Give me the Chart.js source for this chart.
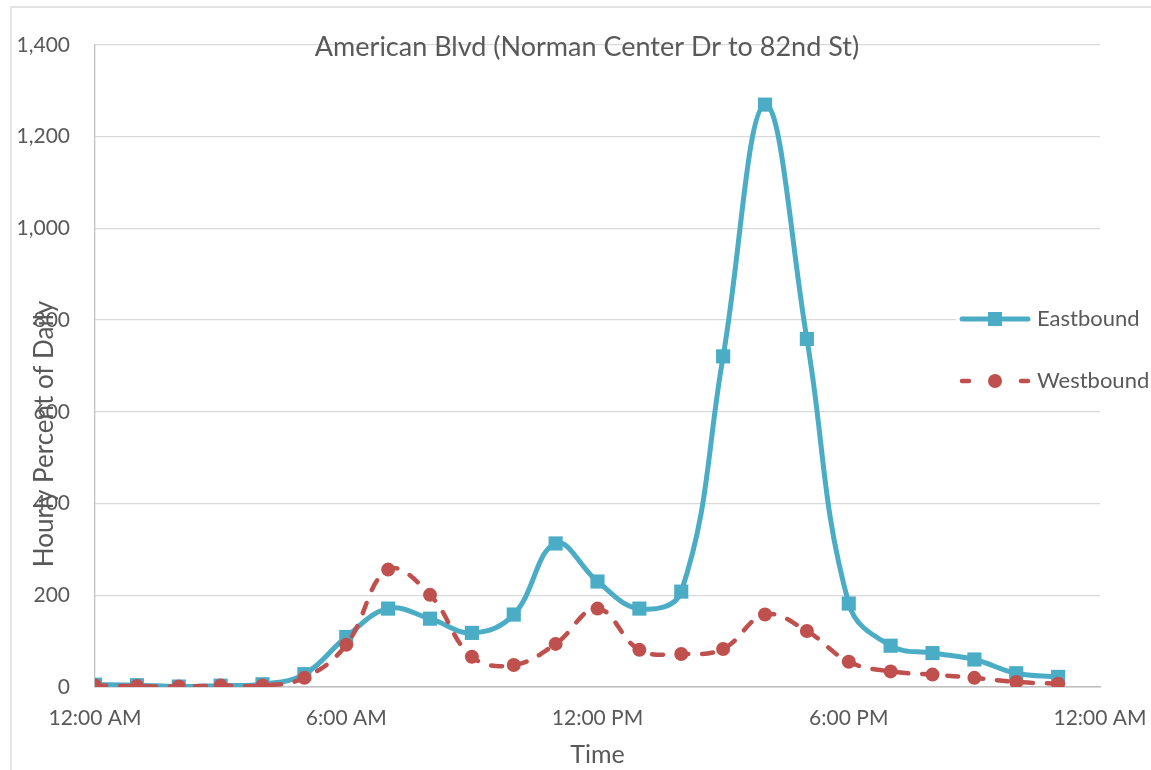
<!DOCTYPE html>
<html>
<head>
<meta charset="utf-8">
<script src="https://cdn.jsdelivr.net/npm/chart.js@4"></script>
<style>
  html, body { margin: 0; padding: 0; background: #fff; }
  #wrap { width: 1151px; height: 770px; position: relative; }
</style>
</head>
<body>
<div id="wrap"><canvas id="chart" width="1151" height="770"></canvas></div>
<script>
// hourly counts, 12 AM .. 11 PM
const hours = [0,1,2,3,4,5,6,7,8,9,10,11,12,13,14,15,16,17,18,19,20,21,22,23];
const eastbound = [5,4,1,3,6,28,109,171,149,118,158,313,230,171,208,721,1270,759,182,90,74,60,30,22];
const westbound = [3,2,1,3,3,20,92,256,201,66,48,94,171,81,72,83,158,122,55,34,27,20,11,7];
const tickLabels = ['12:00 AM','6:00 AM','12:00 PM','6:00 PM','12:00 AM'];
const seriesNames = ['Eastbound','Westbound'];

const EAST = '#4BACC6', WEST = '#C0504D', TXT = '#595959';
const FONT = 'Lato, "Open Sans", sans-serif';
const WEST_DASH = [11, 14];

const pts = vals => hours.map((h, i) => ({ x: h, y: vals[i] }));

// title, axis titles and legend sit over the plot in the original, so draw them by hand
const extras = {
    id: 'extras',
    afterDraw(chart) {
        const ctx = chart.ctx;
        const ca = chart.chartArea;
        ctx.save();
        // outer chart border
        ctx.strokeStyle = '#D9D9D9';
        ctx.lineWidth = 1.3;
        ctx.beginPath();
        ctx.moveTo(11, 770); ctx.lineTo(11, 7); ctx.lineTo(1151, 7);
        ctx.stroke();

        ctx.fillStyle = TXT;
        ctx.font = '27px ' + FONT;
        ctx.textAlign = 'center';
        ctx.textBaseline = 'middle';
        ctx.fillText('American Blvd (Norman Center Dr to 82nd St)', 587, 47);

        ctx.font = '25px ' + FONT;
        ctx.fillText('Time', (ca.left + ca.right) / 2, 755);

        ctx.save();
        ctx.translate(45, 434);
        ctx.rotate(-Math.PI / 2);
        ctx.font = '26px ' + FONT;
        ctx.fillText('Hourly Percent of Daily', 0, 0);
        ctx.restore();

        // legend
        ctx.fillStyle = '#fff';
        ctx.fillRect(956, 304, 195, 92);
        const rows = [
            { name: seriesNames[0], y: 319, color: EAST, w: 5 },
            { name: seriesNames[1], y: 381, color: WEST, w: 4.5 }
        ];
        rows.forEach((r, i) => {
            ctx.strokeStyle = r.color;
            ctx.lineWidth = r.w;
            ctx.lineCap = 'round';
            ctx.beginPath();
            if (i === 0) { ctx.moveTo(962, r.y); ctx.lineTo(1028, r.y); }
            else { ctx.moveTo(962, r.y); ctx.lineTo(969, r.y); ctx.moveTo(1021, r.y); ctx.lineTo(1028, r.y); }
            ctx.stroke();
            ctx.fillStyle = r.color;
            if (i === 0) ctx.fillRect(988, r.y - 7, 14, 14);
            else { ctx.beginPath(); ctx.arc(995, r.y, 7, 0, Math.PI * 2); ctx.fill(); }
            ctx.fillStyle = TXT;
            ctx.font = '22px ' + FONT;
            ctx.textAlign = 'left';
            ctx.fillText(r.name, 1037, r.y);
        });
        ctx.restore();
    }
};

new Chart(document.getElementById('chart'), {
    type: 'line',
    data: {
        datasets: [
            {
                label: seriesNames[0], data: pts(eastbound), order: 2,
                borderColor: EAST, backgroundColor: EAST, borderWidth: 5,
                pointStyle: 'rect', pointRadius: 10, pointBorderWidth: 0,
                tension: 0.4, fill: false
            },
            {
                label: seriesNames[1], data: pts(westbound), order: 1,
                borderColor: WEST, backgroundColor: WEST, borderWidth: 4.5,
                borderDash: WEST_DASH, borderCapStyle: 'round',
                pointStyle: 'circle', pointRadius: 7, pointBorderWidth: 0,
                tension: 0.4, fill: false
            }
        ]
    },
    options: {
        responsive: false,
        animation: false,
        layout: { padding: { top: 45, right: 51, left: 0, bottom: 0 } },
        plugins: { legend: { display: false }, title: { display: false }, tooltip: { enabled: false } },
        scales: {
            x: {
                type: 'linear', min: 0, max: 24,
                afterFit: s => { s.height = 83; s.paddingLeft = 0; s.paddingRight = 0; },
                afterBuildTicks: s => { s.ticks = tickLabels.map((t, i) => ({ value: i * 6 })); },
                ticks: {
                    autoSkip: false, maxRotation: 0, padding: 19, color: TXT,
                    font: { family: FONT, size: 21 },
                    callback: v => tickLabels[v / 6]
                },
                grid: { display: false, drawTicks: false },
                border: { display: true, color: '#BFBFBF', width: 1.5 }
            },
            y: {
                min: 0, max: 1400,
                afterFit: s => { s.width = 95; s.paddingTop = 0; s.paddingBottom = 0; },
                ticks: {
                    stepSize: 200, padding: 25, color: TXT,
                    font: { family: FONT, size: 21 },
                    callback: v => v.toLocaleString('en-US')
                },
                grid: { color: '#D9D9D9', lineWidth: 1.3, drawTicks: false },
                border: { display: true, color: '#BFBFBF', width: 1.3 }
            }
        }
    },
    plugins: [extras]
});
</script>
</body>
</html>
